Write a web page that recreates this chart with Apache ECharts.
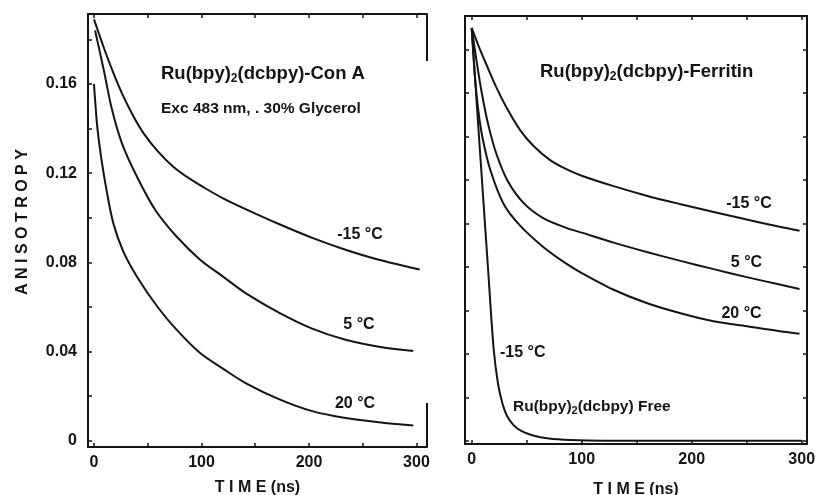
<!DOCTYPE html>
<html>
<head>
<meta charset="utf-8">
<script src="https://cdn.jsdelivr.net/npm/echarts@6/dist/echarts.min.js"></script>
<style>
html,body{margin:0;padding:0;background:#fff;}
#chart{width:829px;height:495px;}
</style>
</head>
<body>
<div id="chart"></div>
<script>
// ---- Data (time in ns, anisotropy) ----
// Left panel: Ru(bpy)2(dcbpy)-Con A
const conA_m15_t = [0, 9, 18, 27, 37, 46, 59, 74, 90, 105, 121, 141, 172, 203, 234, 265, 303];
const conA_m15_r = [0.189, 0.1765, 0.1650, 0.1548, 0.1452, 0.1380, 0.1300, 0.1228, 0.1172, 0.1128, 0.1085, 0.1039, 0.0972, 0.0910, 0.0857, 0.0812, 0.0768];
const conA_5_t = [1, 9, 16.5, 26, 40, 57, 77, 99, 121, 141, 172, 203, 234, 265, 297];
const conA_5_r = [0.184, 0.1665, 0.149, 0.1334, 0.1184, 0.1035, 0.0915, 0.0811, 0.0733, 0.0662, 0.0575, 0.0503, 0.0453, 0.0422, 0.0403];
const conA_20_t = [0, 3, 7, 12, 18, 27, 40, 59, 77, 99, 121, 141, 172, 203, 234, 265, 297];
const conA_20_r = [0.160, 0.141, 0.126, 0.1115, 0.0975, 0.0852, 0.0736, 0.0601, 0.0497, 0.0392, 0.0320, 0.0259, 0.0187, 0.0133, 0.0102, 0.0083, 0.0068];
// Right panel: Ru(bpy)2(dcbpy)-Ferritin
const fer_m15_t = [0, 6, 13.5, 22.5, 32, 44, 56, 71, 86, 100, 129, 159, 189, 220, 250, 280, 298];
const fer_m15_r = [0.190, 0.182, 0.173, 0.1625, 0.1530, 0.1430, 0.1358, 0.1293, 0.1250, 0.1220, 0.1172, 0.1128, 0.1090, 0.1053, 0.1018, 0.0985, 0.0967];
const fer_5_t = [0, 4.5, 9, 15, 22.5, 33, 47, 65, 86, 100, 129, 159, 189, 220, 250, 280, 298];
const fer_5_r = [0.190, 0.1745, 0.1605, 0.1455, 0.1320, 0.1193, 0.1095, 0.1025, 0.0980, 0.0958, 0.0912, 0.0869, 0.0829, 0.0790, 0.0753, 0.0719, 0.0698];
const fer_20_t = [0, 3, 6, 10, 17, 29, 44, 65, 86, 100, 129, 159, 189, 220, 250, 280, 298];
const fer_20_r = [0.190, 0.167, 0.152, 0.139, 0.1245, 0.1090, 0.0990, 0.0892, 0.0815, 0.0772, 0.0695, 0.0634, 0.0588, 0.0550, 0.0527, 0.0504, 0.0493];
const free_t = [0, 5, 10, 15, 20, 24, 28, 32, 38, 45, 55, 70, 90, 120, 300];
const free_r = [0.190, 0.152, 0.115, 0.078, 0.042, 0.026, 0.017, 0.0115, 0.0072, 0.0045, 0.0025, 0.0010, 0.0003, 0, 0];

// ---- Tick labels ----
const xTicks = [0, 50, 100, 150, 200, 250, 300];
const xTickLabels = [0, 100, 200, 300];
const yTicks = [0, 0.02, 0.04, 0.06, 0.08, 0.10, 0.12, 0.14, 0.16, 0.18];
const yTickLabels = [0, 0.04, 0.08, 0.12, 0.16];

const FONT = '"Liberation Sans", Arial, sans-serif';
const INK = '#141414';

function pairs(t, r) { return t.map((x, i) => [x, r[i]]); }

const axisLine = { show: true, onZero: false, lineStyle: { color: INK, width: 2 } };
const tickIn = (vals) => ({ show: true, inside: true, length: 4, lineStyle: { color: INK, width: 1.5 }, customValues: vals });
const noLabel = { show: false };

function xAx(grid, pos, min, max, labels, name, gap) {
  return {
    type: 'value', gridIndex: grid, position: pos, min: min, max: max,
    axisLine: axisLine, splitLine: { show: false },
    axisTick: tickIn(xTicks),
    axisLabel: labels ? { show: true, margin: 8, customValues: xTickLabels, color: INK, fontFamily: FONT, fontWeight: 'bold', fontSize: 16 } : noLabel,
    name: name || '', nameLocation: 'middle', nameGap: gap || 40,
    nameTextStyle: { color: INK, fontFamily: FONT, fontWeight: 'bold', fontSize: 16 }
  };
}
function yAx(grid, pos, min, max, labels) {
  return {
    type: 'value', gridIndex: grid, position: pos, min: min, max: max,
    axisLine: axisLine, splitLine: { show: false },
    axisTick: tickIn(yTicks),
    axisLabel: labels ? { show: true, margin: 11, customValues: yTickLabels, color: INK, fontFamily: FONT, fontWeight: 'bold', fontSize: 16,
      formatter: v => (v === 0 ? '0' : v.toFixed(2)) } : noLabel
  };
}
function line(data, xi, yi) {
  return { type: 'line', data: data, xAxisIndex: xi, yAxisIndex: yi, showSymbol: false, smooth: 0.3,
    lineStyle: { color: INK, width: 2 }, silent: true, z: 3 };
}
function txt(x, y, text, size, align) {
  return { type: 'text', x: x, y: y, silent: true,
    style: { text: text, fill: INK, font: 'bold ' + size + 'px ' + FONT, textAlign: align || 'center', textVerticalAlign: 'middle' } };
}
function richTitle(x, y, pre, post, size, sub) {
  return { type: 'text', x: x, y: y, silent: true,
    style: {
      text: '{a|' + pre + '}{s|2}{a|' + post + '}',
      textAlign: 'left', textVerticalAlign: 'middle',
      rich: {
        a: { fontFamily: FONT, fontWeight: 'bold', fontSize: size, lineHeight: size + 4, fill: INK, color: INK },
        s: { fontFamily: FONT, fontWeight: 'bold', fontSize: sub, padding: [size + 4 - sub - 1, 0, 0, 0], fill: INK, color: INK }
      }
    } };
}

const chart = echarts.init(document.getElementById('chart'), null, { renderer: 'canvas' });
chart.setOption({
  animation: false,
  backgroundColor: '#fff',
  grid: [
    { left: 88, top: 14, width: 339, height: 433, containLabel: false, outerBoundsMode: 'none' },
    { left: 465, top: 16, width: 342, height: 428, containLabel: false, outerBoundsMode: 'none' }
  ],
  xAxis: [
    xAx(0, 'bottom', -5.58, 309.8, true, 'T I M E (ns)', 33),
    xAx(0, 'top', -5.58, 309.8, false),
    xAx(1, 'bottom', -6.1, 304.8, true, 'T I M E (ns)', 38),
    xAx(1, 'top', -6.1, 304.8, false)
  ],
  yAxis: [
    yAx(0, 'left', -0.0028, 0.1914, true),
    yAx(1, 'left', -0.0015, 0.1955, false),
    yAx(1, 'right', -0.0015, 0.1955, false)
  ],
  series: [
    line(pairs(conA_m15_t, conA_m15_r), 0, 0),
    line(pairs(conA_5_t, conA_5_r), 0, 0),
    line(pairs(conA_20_t, conA_20_r), 0, 0),
    line(pairs(fer_m15_t, fer_m15_r), 2, 1),
    line(pairs(fer_5_t, fer_5_r), 2, 1),
    line(pairs(fer_20_t, fer_20_r), 2, 1),
    line(pairs(free_t, free_r), 2, 1)
  ],
  graphic: [
    // partial right frame of the left panel
    { type: 'line', shape: { x1: 427, y1: 14, x2: 427, y2: 61 }, style: { stroke: INK, lineWidth: 2 }, silent: true },
    { type: 'line', shape: { x1: 427, y1: 403, x2: 427, y2: 447 }, style: { stroke: INK, lineWidth: 2 }, silent: true },
    { type: 'text', x: 23, y: 222, rotation: Math.PI / 2, silent: true,
      style: { text: 'A N I S O T R O P Y', fill: INK, font: 'bold 16px ' + FONT, textAlign: 'center', textVerticalAlign: 'middle' } },
    richTitle(161, 74, 'Ru(bpy)', '(dcbpy)-Con A', 18.5, 12),
    txt(161, 109, 'Exc 483 nm, . 30% Glycerol', 15.5, 'left'),
    txt(360, 235, '-15 °C', 16),
    txt(359, 325, '5 °C', 16),
    txt(355, 404, '20 °C', 16),
    richTitle(540, 72, 'Ru(bpy)', '(dcbpy)-Ferritin', 18.5, 12),
    txt(749, 204, '-15 °C', 16),
    txt(746.5, 263, '5 °C', 16),
    txt(741.5, 314, '20 °C', 16),
    txt(500, 353, '-15 °C', 16, 'left'),
    richTitle(513, 407, 'Ru(bpy)', '(dcbpy) Free', 15.5, 11)
  ]
});
</script>
</body>
</html>
